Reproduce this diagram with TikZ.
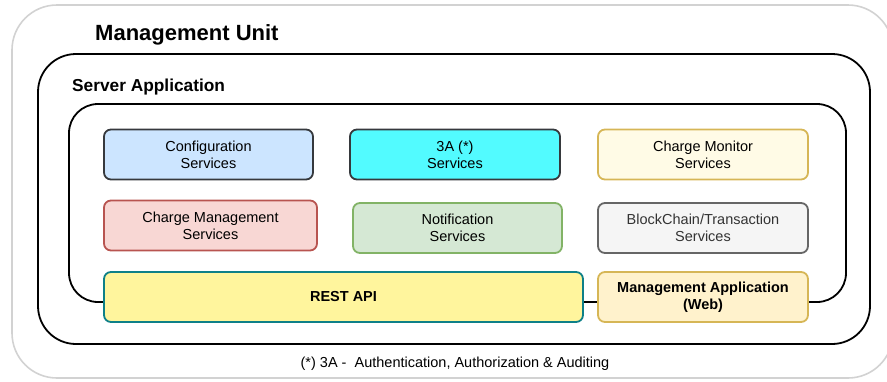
\documentclass[tikz,border=0pt]{standalone}
\usepackage{fontspec}
\setmainfont{Liberation Sans}
\definecolor{frameGray}{HTML}{D2D2D2}
\definecolor{darkStroke}{HTML}{36393D}
\definecolor{cfgFill}{HTML}{CCE5FF}
\definecolor{aaaFill}{HTML}{52FBFF}
\definecolor{monFill}{HTML}{FFFBE6}
\definecolor{yelStroke}{HTML}{D6B656}
\definecolor{redFill}{HTML}{F8D7D4}
\definecolor{redStroke}{HTML}{B85450}
\definecolor{grnFill}{HTML}{D5E8D4}
\definecolor{grnStroke}{HTML}{82B366}
\definecolor{grayFill}{HTML}{F5F5F5}
\definecolor{grayStroke}{HTML}{666666}
\definecolor{grayText}{HTML}{333333}
\definecolor{restFill}{HTML}{FFF59D}
\definecolor{restStroke}{HTML}{0E8088}
\definecolor{webFill}{HTML}{FFF2CC}
\tikzset{
  svc/.style={rectangle, rounded corners=7pt, line width=1.8pt, inner sep=0pt,
    outer sep=0pt, align=center, font=\fontsize{14.5}{17}\selectfont},
  frame/.style={line width=1.8pt, draw=black},
}
\begin{document}
\begin{tikzpicture}[x=1pt,y=-1pt]
\useasboundingbox (0,0) rectangle (887,381);
\begin{scope}
\clip (0,0) rectangle (887,381);
% outer unit boundary (runs past the right edge)
\draw[line width=1.6pt, draw=frameGray, rounded corners=45pt] (12,5) rectangle (893,378);
\end{scope}
\node[anchor=base west, inner sep=0pt, font=\fontsize{22}{25}\selectfont\bfseries] (unit) at (95,40) {Management Unit};
% server application boundary
\draw[frame, rounded corners=38pt] (38,54) rectangle (870,344);
\node[anchor=base west, inner sep=0pt, font=\fontsize{17.3}{20}\selectfont\bfseries] (server) at (72,91) {Server Application};
% services container
\draw[frame, rounded corners=29pt] (69,104) rectangle (846,302);
% first row of services
\node[svc, fill=cfgFill, draw=darkStroke, minimum width=209pt, minimum height=50pt] (cfg) at (208.5,154.5) {Configuration\\Services};
\node[svc, fill=aaaFill, draw=darkStroke, minimum width=210pt, minimum height=50pt] (aaa) at (455,154.5) {3A (*)\\Services};
\node[svc, fill=monFill, draw=yelStroke, minimum width=210pt, minimum height=50pt] (mon) at (703,154.5) {Charge Monitor\\Services};
% second row of services
\node[svc, fill=redFill, draw=redStroke, minimum width=213pt, minimum height=50pt] (chg) at (210.5,225.5) {Charge Management\\Services};
\node[svc, fill=grnFill, draw=grnStroke, minimum width=209pt, minimum height=50pt] (ntf) at (457.5,228) {Notification\\Services};
\node[svc, fill=grayFill, draw=grayStroke, text=grayText, minimum width=210pt, minimum height=50pt] (blk) at (703,228) {BlockChain/Transaction\\Services};
% interfaces
\node[svc, fill=restFill, draw=restStroke, minimum width=479pt, minimum height=50pt, font=\fontsize{14.5}{17}\selectfont\bfseries] (rest) at (343.5,297) {REST API};
\node[svc, fill=webFill, draw=yelStroke, minimum width=210pt, minimum height=50pt, font=\fontsize{14.5}{17}\selectfont\bfseries] (web) at (703,297) {Management Application\\(Web)};
% footnote
\node[anchor=base, inner sep=0pt, font=\fontsize{14.5}{17}\selectfont] (note) at (455,367) {(*) 3A -~ Authentication, Authorization \& Auditing};
\end{tikzpicture}
\end{document}
